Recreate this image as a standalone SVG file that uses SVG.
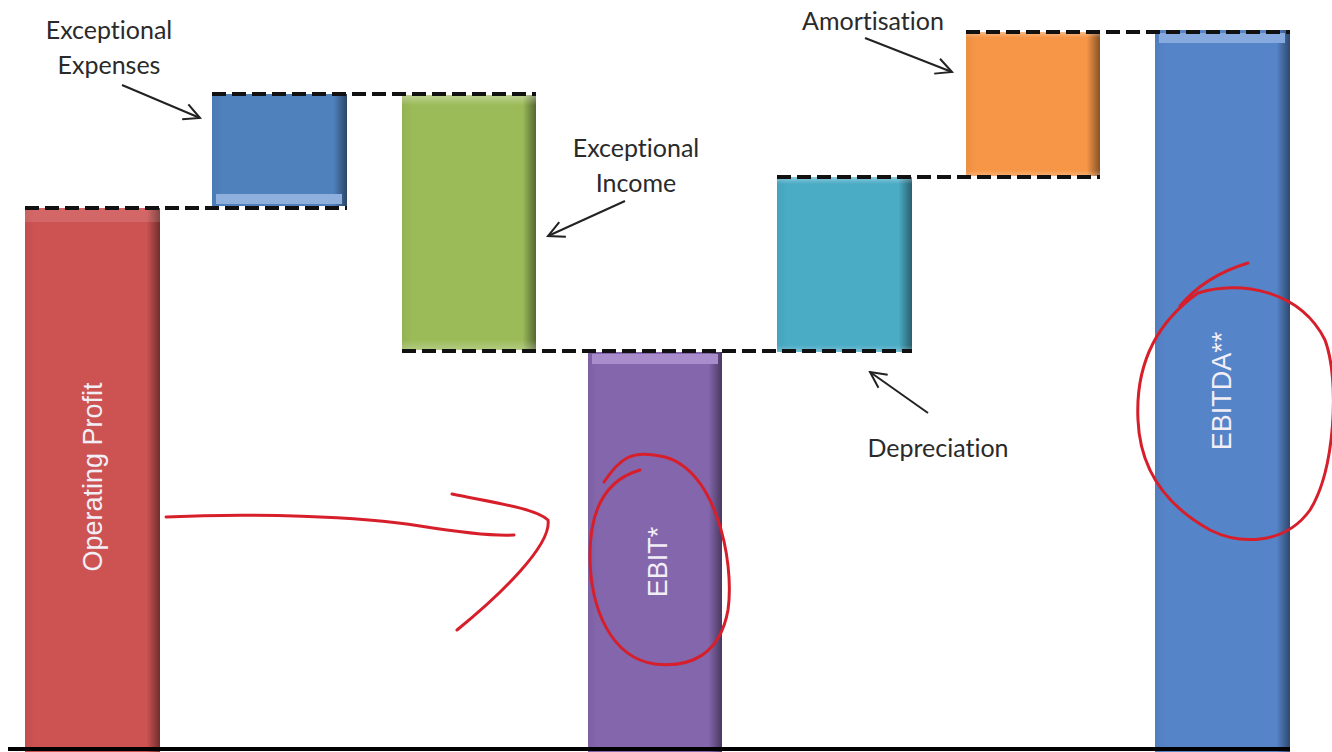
<svg xmlns="http://www.w3.org/2000/svg" width="1332" height="752" viewBox="0 0 1332 752">
<defs>
<marker id="ah" viewBox="0 0 20 20" refX="18" refY="10" markerWidth="20" markerHeight="20" markerUnits="userSpaceOnUse" orient="auto">
<path d="M2,2 L18,10 L2,18" fill="none" stroke="#222" stroke-width="2"/>
</marker>
<linearGradient id="edge" x1="0" y1="0" x2="1" y2="0">
<stop offset="0" stop-color="#000" stop-opacity="0.05"/>
<stop offset="0.08" stop-color="#000" stop-opacity="0"/>
<stop offset="0.9" stop-color="#000" stop-opacity="0"/>
<stop offset="1" stop-color="#000" stop-opacity="0.45"/>
</linearGradient>
<linearGradient id="vedge" x1="0" y1="0" x2="0" y2="1">
<stop offset="0" stop-color="#fff" stop-opacity="0.35"/>
<stop offset="0.04" stop-color="#fff" stop-opacity="0"/>
<stop offset="0.96" stop-color="#fff" stop-opacity="0"/>
<stop offset="1" stop-color="#fff" stop-opacity="0.25"/>
</linearGradient>
</defs>
<style>
.lbl{font-family:Lato,"Open Sans",sans-serif;font-size:25px;fill:#2a2a2a;text-anchor:middle;font-variant-ligatures:none;font-feature-settings:"liga" 0,"dlig" 0}
.bar-t{font-family:"Liberation Sans",Arial,sans-serif;font-size:27px;fill:#f2eef6;text-anchor:middle}
.dash{stroke:#111;stroke-width:4;stroke-dasharray:14 6;fill:none}
.ptr{stroke:#222;stroke-width:2;fill:none;marker-end:url(#ah)}
.red{stroke:#d71f2b;stroke-width:3;fill:none;stroke-linecap:round}
</style>
<rect width="1332" height="752" fill="#fff"/>

<g id="operating-profit">
<rect x="25" y="208" width="135" height="545" fill="#cd5352"/>
<rect x="25" y="208" width="135" height="545" fill="url(#edge)"/>
<rect x="25" y="208" width="135" height="14" fill="#fff" opacity="0.12"/>
<text class="bar-t" transform="translate(102,477) rotate(-90)">Operating Profit</text>
</g>

<g id="exceptional-expenses">
<rect x="212" y="94" width="135" height="112" fill="#4f81bd"/>
<rect x="212" y="94" width="135" height="112" fill="url(#edge)"/>
<rect x="216" y="194" width="126" height="10" fill="#8fb0dc"/>
<text class="lbl" x="109" y="39">Exceptional</text>
<text class="lbl" x="109" y="74">Expenses</text>
</g>

<g id="exceptional-income">
<rect x="402" y="95" width="134" height="255" fill="#9bbb59"/>
<rect x="402" y="95" width="134" height="255" fill="url(#edge)"/>
<rect x="402" y="95" width="134" height="255" fill="url(#vedge)"/>
<text class="lbl" x="636" y="157">Exceptional</text>
<text class="lbl" x="636" y="192">Income</text>
</g>

<g id="ebit">
<rect x="588" y="352" width="134" height="401" fill="#8466ac"/>
<rect x="588" y="352" width="134" height="401" fill="url(#edge)"/>
<rect x="592" y="354" width="126" height="10" fill="#a98ccc"/>
<text class="bar-t" transform="translate(667,562) rotate(-90)">EBIT*</text>
</g>

<g id="depreciation">
<rect x="777" y="177" width="135" height="175" fill="#4bacc6"/>
<rect x="777" y="177" width="135" height="175" fill="url(#edge)"/>
<rect x="777" y="177" width="135" height="175" fill="url(#vedge)"/>
<text class="lbl" x="938" y="457">Depreciation</text>
</g>

<g id="amortisation">
<rect x="966" y="32" width="134" height="144" fill="#f79646"/>
<rect x="966" y="32" width="134" height="144" fill="url(#edge)"/>
<rect x="966" y="32" width="134" height="144" fill="url(#vedge)"/>
<text class="lbl" x="873" y="30">Amortisation</text>
</g>

<g id="ebitda">
<rect x="1155" y="30" width="135" height="723" fill="#5584c8"/>
<rect x="1155" y="30" width="135" height="723" fill="url(#edge)"/>
<rect x="1159" y="33" width="126" height="10" fill="#86a9de"/>
<text class="bar-t" transform="translate(1231,391) rotate(-90)">EBITDA**</text>
</g>

<g id="connectors">
<line class="dash" x1="25" y1="208" x2="347" y2="208"/>
<line class="dash" x1="212" y1="94" x2="536" y2="94"/>
<line class="dash" x1="402" y1="351" x2="912" y2="351"/>
<line class="dash" x1="777" y1="177" x2="1100" y2="177"/>
<line class="dash" x1="966" y1="32" x2="1290" y2="32"/>
<line x1="8" y1="749" x2="1290" y2="749" stroke="#000" stroke-width="4"/>
<line class="ptr" x1="122" y1="85" x2="200" y2="118"/>
<line class="ptr" x1="625" y1="201" x2="548" y2="236"/>
<line class="ptr" x1="865" y1="38" x2="952" y2="72"/>
<line class="ptr" x1="928" y1="413" x2="870" y2="372"/>
</g>

<g id="annotations">
<path class="red" d="M166,517 C250,513 360,516 420,526 C470,534 495,536 514,535"/>
<path class="red" d="M452,494 C490,502 535,508 548,520 C552,545 500,595 457,630"/>
<path class="red" d="M604,482 C620,458 632,450 660,456 C715,465 735,560 728,610 C720,655 690,668 655,664 C612,658 590,610 590,555 C590,500 612,478 640,470"/>
<path class="red" d="M1248,263 C1218,272 1195,288 1180,306"/>
<path class="red" d="M1198,293 C1240,280 1300,290 1325,340 C1340,380 1335,470 1310,510 C1285,545 1240,545 1210,530 C1165,505 1140,470 1138,420 C1135,360 1160,320 1198,293"/>
</g>
</svg>
